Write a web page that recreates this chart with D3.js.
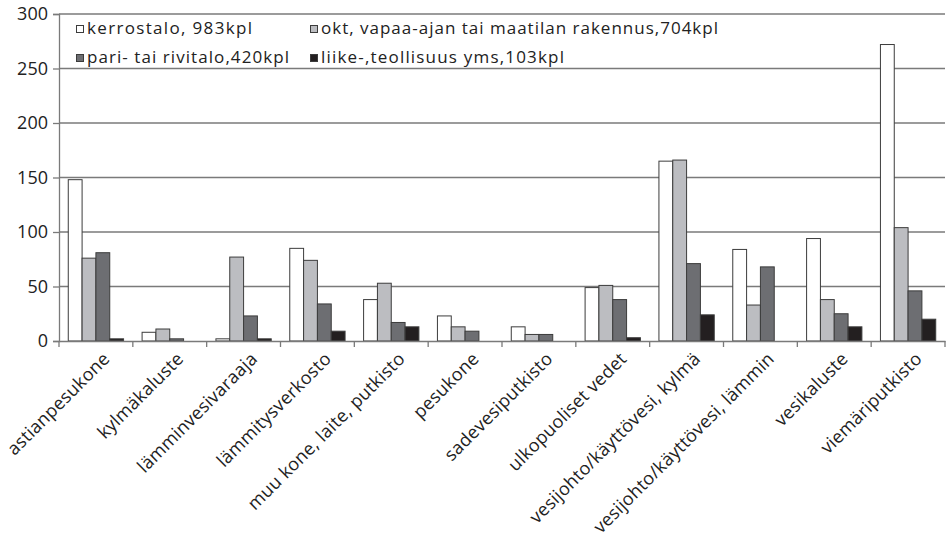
<!DOCTYPE html>
<html>
<head>
<meta charset="utf-8">
<script src="https://cdn.jsdelivr.net/npm/d3@7"></script>
<style>
  html, body { margin: 0; padding: 0; background: #fff; }
  svg { display: block; font-family: "Open Sans", "DejaVu Sans", sans-serif; }
</style>
</head>
<body>
<svg id="chart" width="950" height="541"></svg>
<script>
// Vahinkokohteet rakennustyypeittäin
const categories = [
  "astianpesukone", "kylmäkaluste", "lämminvesivaraaja", "lämmitysverkosto",
  "muu kone, laite, putkisto", "pesukone", "sadevesiputkisto", "ulkopuoliset vedet",
  "vesijohto/käyttövesi, kylmä", "vesijohto/käyttövesi, lämmin", "vesikaluste", "viemäriputkisto"
];
const seriesNames = [
  "kerrostalo, 983kpl",
  "okt, vapaa-ajan tai maatilan rakennus,704kpl",
  "pari- tai rivitalo,420kpl",
  "liike-,teollisuus yms,103kpl"
];
const kerrostalo = [148, 8, 2, 85, 38, 23, 13, 49, 165, 84, 94, 272];
const okt        = [76, 11, 77, 74, 53, 13, 6, 51, 166, 33, 38, 104];
const pariRivi   = [81, 2, 23, 34, 17, 9, 6, 38, 71, 68, 25, 46];
const liike      = [2, 0, 2, 9, 13, 0, 0, 3, 24, 0, 13, 20];
const yTicks = [0, 50, 100, 150, 200, 250, 300];

const seriesValues = [kerrostalo, okt, pariRivi, liike];
const colors = ["#ffffff", "#bcbdc1", "#6d6e72", "#231f20"];

const svg = d3.select("#chart");
const plotLeft = 59, plotRight = 945, plotTop = 14, plotBottom = 341;

const x = d3.scaleBand().domain(categories).range([plotLeft, plotRight]).paddingInner(0).paddingOuter(0);
const barW = x.bandwidth() / (4 + 1.34);
const x1 = d3.scaleBand().domain(d3.range(4)).range([0, barW * 4]);
const groupOffset = (x.bandwidth() - barW * 4) / 2;
const y = d3.scaleLinear().domain([0, 300]).range([plotBottom, plotTop]);

// Vaakasuorat apuviivat
svg.append("g").selectAll("line").data(yTicks.filter(d => d > 0)).join("line")
  .attr("x1", plotLeft).attr("x2", plotRight)
  .attr("y1", d => y(d)).attr("y2", d => y(d))
  .attr("stroke", "#7a7a7a").attr("stroke-width", 1.3);

// Pylväät
const groups = svg.append("g").selectAll("g").data(categories).join("g")
  .attr("transform", d => `translate(${x(d) + groupOffset},0)`);
groups.selectAll("rect")
  .data((d, i) => seriesValues.map((s, k) => ({ k, v: s[i] })))
  .join("rect")
  .attr("x", d => x1(d.k))
  .attr("width", barW)
  .attr("y", d => y(d.v))
  .attr("height", d => y(0) - y(d.v))
  .attr("fill", d => colors[d.k])
  .attr("stroke", d => d.v > 0 ? "#3c3c3c" : "none")
  .attr("stroke-width", 1);

// Y-akseli
const yAxis = svg.append("g").attr("transform", `translate(${plotLeft},0)`)
  .call(d3.axisLeft(y).tickValues(yTicks).tickSize(6).tickPadding(5));
yAxis.select(".domain").attr("stroke", "#7a7a7a").attr("stroke-width", 1.3);
yAxis.selectAll(".tick line").attr("stroke", "#7a7a7a").attr("stroke-width", 1.3);
yAxis.selectAll("text").attr("font-size", 18).attr("fill", "#222")
  .attr("font-family", "'Open Sans', sans-serif");

// X-akseli
const xAxis = svg.append("g").attr("transform", `translate(0,${plotBottom})`)
  .call(d3.axisBottom(x).tickSize(0).tickFormat(""));
xAxis.select(".domain").attr("stroke", "#7a7a7a").attr("stroke-width", 1.3);
const tickPos = d3.range(categories.length + 1).map(i => plotLeft + i * x.bandwidth());
svg.append("g").selectAll("line").data(tickPos).join("line")
  .attr("x1", d => d).attr("x2", d => d)
  .attr("y1", plotBottom).attr("y2", plotBottom + 6)
  .attr("stroke", "#7a7a7a").attr("stroke-width", 1.3);

svg.append("g").selectAll("text").data(categories).join("text")
  .attr("transform", d => `translate(${x(d) + x.bandwidth() / 2 + 6},${plotBottom + 10}) rotate(-45)`)
  .attr("text-anchor", "end")
  .attr("dy", "0.7em")
  .attr("font-size", 18)
  .attr("letter-spacing", 0.25)
  .attr("fill", "#222")
  .text(d => d);

// Selite
const legendPos = [
  { x: 76, y: 34 }, { x: 310, y: 34 },
  { x: 76, y: 63 }, { x: 310, y: 63 }
];
const legendWidths = [165, 397, 202, 243];
const legend = svg.append("g").selectAll("g").data(seriesNames).join("g")
  .attr("transform", (d, i) => `translate(${legendPos[i].x},${legendPos[i].y})`);
legend.append("rect")
  .attr("x", 0.5).attr("y", -8.5).attr("width", 7).attr("height", 7)
  .attr("fill", (d, i) => colors[i])
  .attr("stroke", "#3c3c3c").attr("stroke-width", 1);
legend.append("text")
  .attr("x", 11).attr("y", 0)
  .attr("font-size", 17)
  .attr("fill", "#222")
  .attr("textLength", (d, i) => legendWidths[i])
  .attr("lengthAdjust", "spacing")
  .text(d => d);
</script>
</body>
</html>
